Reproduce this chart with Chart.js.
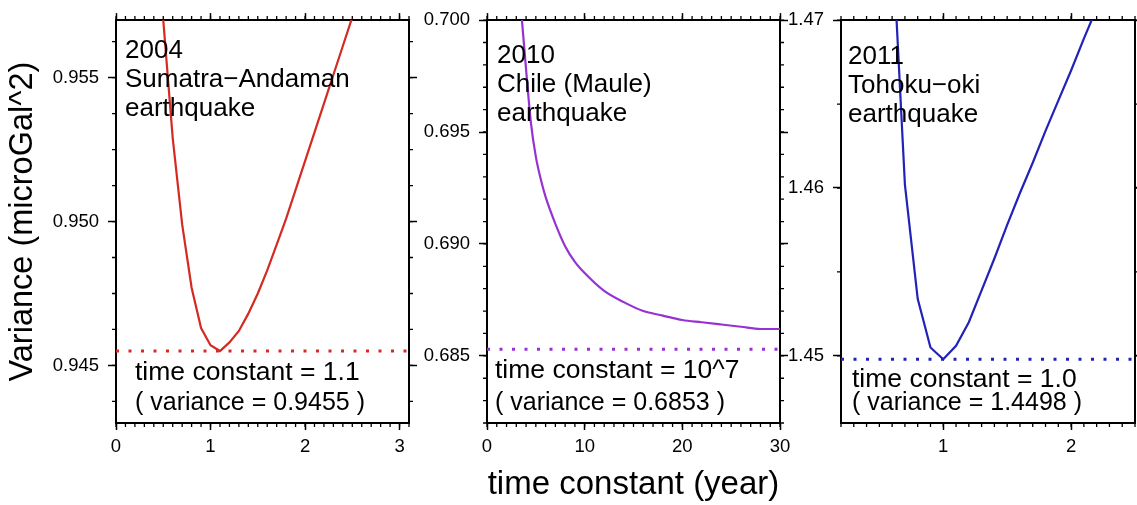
<!DOCTYPE html>
<html>
<head>
<meta charset="utf-8">
<script src="https://cdn.jsdelivr.net/npm/chart.js@4.4.1/dist/chart.umd.min.js"></script>
<style>
  html, body { margin: 0; padding: 0; background: #fff; }
  #wrap { position: relative; width: 1137px; height: 505px; }
  #wrap canvas { position: absolute; left: 0; top: 0; }
</style>
</head>
<body>
<div id="wrap">
  <canvas id="sumatra-chart" width="1137" height="505"></canvas>
  <canvas id="chile-chart" width="1137" height="505"></canvas>
  <canvas id="tohoku-chart" width="1137" height="505"></canvas>
</div>
<script>
/* ============================================= */
/*                  Data                         */
/* ============================================= */
const sumatraTime = [0.4, 0.5, 0.6, 0.7, 0.8, 0.9, 1.0, 1.1, 1.2, 1.3, 1.4, 1.5, 1.6, 1.7, 1.8, 1.9, 2.0, 2.1, 2.2, 2.3, 2.4, 2.5, 2.6];
const sumatraVariance = [0.9615, 0.9570, 0.9529, 0.9499, 0.9477, 0.9463, 0.9457, 0.9455, 0.9458, 0.9462, 0.9468, 0.9475, 0.9483, 0.9492, 0.9501, 0.9511, 0.9521, 0.9531, 0.9541, 0.9551, 0.9561, 0.9571, 0.9581];

const chileTime = [3.0, 3.5, 4, 4.5, 5, 5.5, 6, 7, 8, 9, 10, 12, 14, 16, 18, 20, 22, 24, 26, 28, 30];
const chileVariance = [0.7030, 0.7004, 0.6978, 0.6954, 0.6939, 0.6929, 0.6921, 0.6909, 0.6899, 0.6892, 0.6887, 0.6879, 0.6874, 0.6870, 0.6868, 0.6866, 0.6865, 0.6864, 0.6863, 0.6862, 0.6862];

const tohokuTime = [0.6, 0.7, 0.8, 0.9, 1.0, 1.1, 1.2, 1.3, 1.4, 1.5, 1.6, 1.7, 1.8, 1.9, 2.0, 2.1, 2.2, 2.3];
const tohokuVariance = [1.4752, 1.4602, 1.4534, 1.4505, 1.4498, 1.4506, 1.4520, 1.4539, 1.4558, 1.4578, 1.4597, 1.4615, 1.4634, 1.4652, 1.4670, 1.4689, 1.4707, 1.4725];

// best fit per event
const bestTimeConstant = ["1.1", "10^7", "1.0"];
const bestVariance = [0.9455, 0.6853, 1.4498];

// tick labels
const sumatraXTicks = [0, 1, 2, 3];
const sumatraYTicks = [0.945, 0.950, 0.955];
const chileXTicks = [0, 10, 20, 30];
const chileYTicks = [0.685, 0.690, 0.695, 0.700];
const tohokuXTicks = [1, 2];
const tohokuYTicks = [1.45, 1.46, 1.47];

const FONT = "'Liberation Sans', Arial, Helvetica, sans-serif";

/* ============================================= */
/*                  Plugins                      */
/* ============================================= */
// short outward ticks between the labelled ones (GMT style frame)
const minorTicks = {
  id: "minorTicks",
  afterDraw(chart, args, opts) {
    const ctx = chart.ctx;
    ctx.save();
    ctx.strokeStyle = "#000";
    ctx.lineWidth = 1.3;
    ctx.beginPath();
    Object.values(chart.scales).forEach((scale) => {
      const step = scale.isHorizontal() ? opts.xStep : opts.yStep;
      const first = Math.ceil(scale.min / step - 1e-6);
      const last = Math.floor(scale.max / step + 1e-6);
      for (let i = first; i <= last; i++) {
        const p = scale.getPixelForValue(i * step);
        if (scale.position === "left") { ctx.moveTo(scale.right - 4, p); ctx.lineTo(scale.right, p); }
        else if (scale.position === "right") { ctx.moveTo(scale.left, p); ctx.lineTo(scale.left + 4, p); }
        else if (scale.position === "top") { ctx.moveTo(p, scale.bottom - 4); ctx.lineTo(p, scale.bottom); }
        else { ctx.moveTo(p, scale.top); ctx.lineTo(p, scale.top + 4); }
      }
    });
    ctx.stroke();
    ctx.restore();
  },
};

const panelText = {
  id: "panelText",
  afterDraw(chart, args, opts) {
    const ctx = chart.ctx;
    const area = chart.chartArea;
    ctx.save();
    ctx.fillStyle = "#000";
    ctx.textAlign = "left";
    ctx.textBaseline = "alphabetic";
    opts.items.forEach((it) => {
      ctx.font = it.size + "px " + FONT;
      ctx.fillText(it.text, area.left + it.dx, area.top + it.dy);
    });
    ctx.restore();
  },
};

/* ============================================= */
/*                  Panels                       */
/* ============================================= */
function axisBase(pos, min, max, values, tickLen) {
  return {
    type: "linear",
    position: pos,
    min: min,
    max: max,
    afterBuildTicks: (axis) => { axis.ticks = values.map((v) => ({ value: v })); },
    grid: { drawOnChartArea: false, drawTicks: true, tickLength: tickLen, tickColor: "#000", tickWidth: 1.5 },
    border: { display: true, color: "#000", width: 2 },
    ticks: { display: false },
  };
}

function buildPanel(canvas, p) {
  const x = axisBase("bottom", p.xMin, p.xMax, p.xTicks, 7);
  x.ticks = { display: true, autoSkip: false, maxRotation: 0, padding: 6, color: "#000", font: { family: FONT, size: 18.5 }, callback: (v) => String(v) };
  x.afterFit = (s) => { s.height = 82; };
  if (p.xTitle) {
    x.title = { display: true, text: p.xTitle, color: "#000", font: { family: FONT, size: 33, lineHeight: 1 }, padding: { top: 0, bottom: 4 } };
  }

  const x2 = axisBase("top", p.xMin, p.xMax, p.xTicks, 7);
  x2.afterFit = (s) => { s.height = 8; };

  const y = axisBase("left", p.yMin, p.yMax, p.yTicks, 8);
  y.ticks = { display: true, autoSkip: false, padding: 9, color: "#000", font: { family: FONT, size: 18.5 }, callback: (v) => v.toFixed(p.yDigits) };
  y.afterFit = (s) => { s.width = p.leftWidth; };
  if (p.yTitle) {
    y.title = { display: true, text: p.yTitle, color: "#000", font: { family: FONT, size: 32.5, lineHeight: 1 }, padding: { top: 7, bottom: 0 } };
  }

  const y2 = axisBase("right", p.yMin, p.yMax, p.yTicks, 8);
  y2.afterFit = (s) => { s.width = p.rightWidth; };

  return new Chart(canvas, {
    type: "line",
    data: {
      datasets: [
        {
          data: p.time.map((t, i) => ({ x: t, y: p.variance[i] })),
          borderColor: p.color,
          borderWidth: 2.2,
          pointRadius: 0,
          tension: 0,
          cubicInterpolationMode: p.smooth ? "monotone" : "default",
        },
        {
          data: [{ x: p.xMin, y: p.best }, { x: p.xMax, y: p.best }],
          borderColor: p.color,
          borderWidth: 3,
          borderDash: [3, 9.5],
          pointRadius: 0,
        },
      ],
    },
    options: {
      responsive: false,
      animation: false,
      events: [],
      layout: { padding: p.padding },
      plugins: {
        legend: { display: false },
        tooltip: { enabled: false },
        minorTicks: { xStep: p.xMinor, yStep: p.yMinor },
        panelText: { items: p.texts },
      },
      scales: { x: x, x2: x2, y: y, y2: y2 },
    },
    plugins: [minorTicks, panelText],
  });
}

function labelLines(name, idx, top, bottom) {
  return [
    { text: name[0], dx: top.dx, dy: top.dy, size: 26 },
    { text: name[1], dx: top.dx, dy: top.dy + 29, size: 26 },
    { text: name[2], dx: top.dx, dy: top.dy + 58, size: 26 },
    { text: "time constant = " + bestTimeConstant[idx], dx: bottom.dx, dy: bottom.dy, size: 26.5 },
    { text: "( variance = " + bestVariance[idx].toFixed(4) + " )", dx: bottom.dx, dy: 390, size: 25 },
  ];
}

const sumatraChart = buildPanel(document.querySelector("#sumatra-chart"), {
  time: sumatraTime, variance: sumatraVariance, best: bestVariance[0], color: "#d42a22",
  xMin: 0, xMax: 3.1, xTicks: sumatraXTicks, xMinor: 0.1,
  yMin: 0.943, yMax: 0.957, yTicks: sumatraYTicks, yMinor: 0.00125, yDigits: 3,
  leftWidth: 116, rightWidth: 8,
  padding: { left: 0, right: 720, top: 11, bottom: 0 },
  yTitle: "Variance (microGal^2)",
  texts: labelLines(["2004", "Sumatra\u2212Andaman", "earthquake"], 0, { dx: 9, dy: 38 }, { dx: 19, dy: 360 }),
});

const chileChart = buildPanel(document.querySelector("#chile-chart"), {
  time: chileTime, variance: chileVariance, best: bestVariance[1], color: "#9632d2", smooth: true,
  xMin: 0, xMax: 30, xTicks: chileXTicks, xMinor: 1,
  yMin: 0.682, yMax: 0.700, yTicks: chileYTicks, yMinor: 0.001, yDigits: 3,
  leftWidth: 70, rightWidth: 8,
  padding: { left: 417, right: 349, top: 11, bottom: 0 },
  xTitle: "time constant (year)",
  texts: labelLines(["2010", "Chile (Maule)", "earthquake"], 1, { dx: 10, dy: 43 }, { dx: 8, dy: 358 }),
});

const tohokuChart = buildPanel(document.querySelector("#tohoku-chart"), {
  time: tohokuTime, variance: tohokuVariance, best: bestVariance[2], color: "#2222b8",
  xMin: 0.2, xMax: 2.5, xTicks: tohokuXTicks, xMinor: 0.1,
  yMin: 1.446, yMax: 1.47, yTicks: tohokuYTicks, yMinor: 0.005, yDigits: 2,
  leftWidth: 60, rightWidth: 2,
  padding: { left: 781, right: 0, top: 11, bottom: 0 },
  texts: labelLines(["2011", "Tohoku\u2212oki", "earthquake"], 2, { dx: 7, dy: 44 }, { dx: 11, dy: 367 }),
});
</script>
</body>
</html>
